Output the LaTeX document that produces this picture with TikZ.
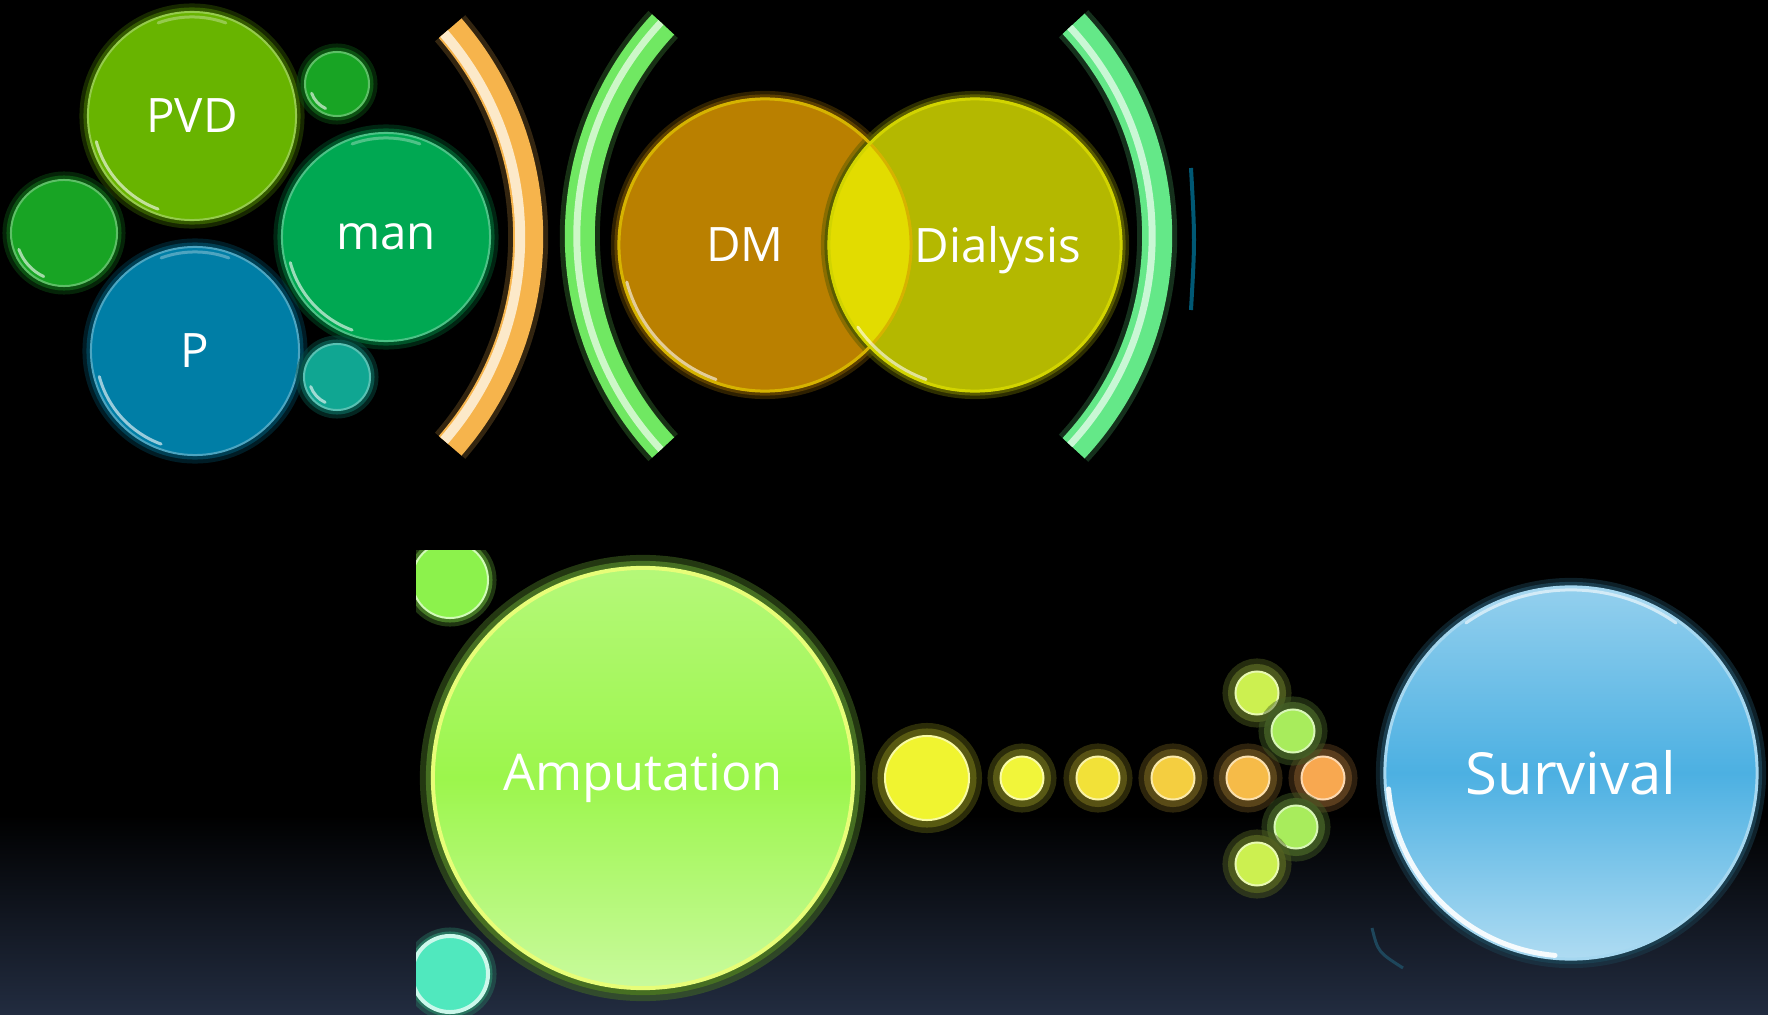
\documentclass[tikz,border=0pt]{standalone}
\usepackage{fontspec}
\setmainfont{Open Sans}
\usetikzlibrary{positioning}

\definecolor{bgnavy}{RGB}{34,44,64}
\definecolor{pvdgreen}{RGB}{104,180,0}
\definecolor{dotgreen}{RGB}{24,164,36}
\definecolor{mangreen}{RGB}{0,168,82}
\definecolor{pblue}{RGB}{0,126,166}
\definecolor{dotteal}{RGB}{16,166,146}
\definecolor{bracketorange}{RGB}{246,180,76}
\definecolor{bracketgreen}{RGB}{112,232,98}
\definecolor{bracketmint}{RGB}{100,232,136}
\definecolor{dmbrown}{RGB}{186,128,0}
\definecolor{dialysisolive}{RGB}{180,184,0}
\definecolor{overlapyellow}{RGB}{226,220,0}
\definecolor{ampgreen}{RGB}{156,246,76}
\definecolor{ampdotgreen}{RGB}{140,242,76}
\definecolor{ampdotteal}{RGB}{80,232,190}
\definecolor{survblue}{RGB}{76,176,226}
\definecolor{beadyellow}{RGB}{240,244,48}
\definecolor{beadorange}{RGB}{248,168,80}
\definecolor{beadlime}{RGB}{204,240,80}
\definecolor{beadgreen}{RGB}{168,236,92}

\tikzset{
  bubble/.style={circle, inner sep=0pt, fill=#1, draw=#1!70!white, line width=0.02cm,
    preaction={draw=#1!50!black, line width=0.17cm, opacity=0.45},
    preaction={draw=#1!50!black, line width=0.09cm}, text=white,
    font=\fontsize{13.5}{16}\selectfont},
  venn/.style={circle, inner sep=0pt, minimum size=2.94cm, fill=#1,
    preaction={draw=#1!50!black, line width=0.14cm, opacity=0.5},
    preaction={draw=#1!50!black, line width=0.07cm}},
  shine/.style={white, opacity=0.6, line width=0.03cm, line cap=round},
  bead/.style={circle, inner sep=0pt, minimum size=0.43cm, fill=#1, draw=#1!45!white,
    line width=0.02cm, preaction={draw=#1!40!black, line width=0.26cm, opacity=0.45},
    preaction={draw=#1!40!black, line width=0.15cm, opacity=0.85}},
  band/.style={draw=#1, line width=0.30cm, preaction={draw=#1!35!black, line width=0.40cm, opacity=0.6}},
  txt/.style={text=white, inner sep=0pt, font=\fontsize{13.5}{16}\selectfont}
}

\begin{document}
\begin{tikzpicture}[x=0.01cm, y=-0.01cm]
	\useasboundingbox (0,0) rectangle (1768,1015);
	\fill[black] (0,0) rectangle (1768,1015);
	\shade[top color=black, bottom color=bgnavy] (0,815) rectangle (1768,1015);

	% bubbles on the left
	\node[bubble=pvdgreen, minimum size=2.08cm] (pvd) at (192,116) {PVD};
	\node[bubble=dotgreen, minimum size=0.64cm] (pvddot) at (337,84) {};
	\node[bubble=dotgreen, minimum size=1.06cm] (leftdot) at (64,233) {};
	\node[bubble=mangreen, minimum size=2.08cm] (man) at (386,237) {man};
	\node[bubble=pblue, minimum size=2.08cm] (p) at (195,351) {P};
	\node[bubble=dotteal, minimum size=0.66cm] (pdot) at (337,377) {};

	\draw[shine] (pvd.center) ++(195:0.99cm) arc[start angle=195, end angle=250, radius=0.99cm];
	\draw[shine] (man.center) ++(195:0.99cm) arc[start angle=195, end angle=250, radius=0.99cm];
	\draw[shine] (p.center) ++(195:0.99cm) arc[start angle=195, end angle=250, radius=0.99cm];
	\draw[shine, opacity=0.3] (pvd.center) ++(70:0.99cm) arc[start angle=70, end angle=110, radius=0.99cm];
	\draw[shine, opacity=0.3] (man.center) ++(70:0.99cm) arc[start angle=70, end angle=110, radius=0.99cm];
	\draw[shine, opacity=0.3] (p.center) ++(70:0.99cm) arc[start angle=70, end angle=110, radius=0.99cm];
	\draw[shine] (pvddot.center) ++(200:0.27cm) arc[start angle=200, end angle=245, radius=0.27cm];
	\draw[shine] (leftdot.center) ++(200:0.48cm) arc[start angle=200, end angle=245, radius=0.48cm];
	\draw[shine] (pdot.center) ++(200:0.28cm) arc[start angle=200, end angle=245, radius=0.28cm];

	% brackets
	\draw[band=bracketorange] (210,237) ++(-41:3.18cm) arc[start angle=-41, end angle=41, radius=3.18cm];
	\draw[bracketorange!30!white, line width=0.10cm] (210,237) ++(-41:3.10cm) arc[start angle=-41, end angle=41, radius=3.10cm];
	\draw[band=bracketgreen] (890,236) ++(137:3.10cm) arc[start angle=137, end angle=223, radius=3.10cm];
	\draw[bracketgreen!35!white, line width=0.07cm] (890,236) ++(137:3.13cm) arc[start angle=137, end angle=223, radius=3.13cm];
	\draw[band=bracketmint] (846,236) ++(-43:3.11cm) arc[start angle=-43, end angle=43, radius=3.11cm];
	\draw[bracketmint!35!white, line width=0.07cm] (846,236) ++(-43:3.06cm) arc[start angle=-43, end angle=43, radius=3.06cm];
	\draw[pblue!70!black, line width=0.04cm] (1191,168) .. controls (1195,240) .. (1191,310);

	% DM and Dialysis
	\node[venn=dmbrown] (dm) at (765,245) {};
	\node[venn=dialysisolive] (dialysis) at (975,245) {};
	\begin{scope}
		\clip (dm.center) circle (1.47cm);
		\fill[overlapyellow] (dialysis.center) circle (1.47cm);
	\end{scope}
	\draw[dmbrown!60!yellow, line width=0.03cm] (dm.center) circle (1.46cm);
	\draw[dialysisolive!60!yellow, line width=0.03cm] (dialysis.center) circle (1.46cm);
	\draw[shine] (dm.center) ++(195:1.43cm) arc[start angle=195, end angle=250, radius=1.43cm];
	\draw[shine] (dialysis.center) ++(215:1.43cm) arc[start angle=215, end angle=250, radius=1.43cm];
	\node[txt] (dmtext) at (745,245) {DM};
	\node[txt] (dialysistext) at (998,250) {Dialysis};

	% bottom row
	\begin{scope}
		\clip (416,550) rectangle (1768,1015);
		\node[bubble=ampdotgreen, draw=ampdotgreen!40!white, minimum size=0.76cm] (ampdot) at (450,580) {};
		\node[bubble=ampdotteal, draw=ampdotteal!30!white, line width=0.04cm, minimum size=0.76cm] (tealdot) at (450,974) {};
	\end{scope}

	\node[circle, inner sep=0pt, minimum size=4.20cm, top color=ampgreen!75!white, bottom color=ampgreen!55!white,
		middle color=ampgreen, draw=ampgreen!40!yellow!60!white, line width=0.04cm,
		preaction={draw=ampgreen!45!black, line width=0.26cm, opacity=0.5},
		preaction={draw=ampgreen!45!black, line width=0.14cm}, text=white,
		font=\fontsize{14.4}{17}\selectfont] (amp) at (643,778) {Amputation};

	\node[bead=beadyellow, minimum size=0.84cm] (bigbead) at (927,778) {};
	\node[bead=beadyellow!95!white] (bead1) at (1022,778) {};
	\node[bead=beadyellow!75!beadorange] (bead2) at (1098,778) {};
	\node[bead=beadyellow!50!beadorange] (bead3) at (1173,778) {};
	\node[bead=beadyellow!25!beadorange] (bead4) at (1248,778) {};
	\node[bead=beadorange] (bead5) at (1323,778) {};
	\node[bead=beadlime] (uppertip) at (1257,693) {};
	\node[bead=beadgreen] (upperbead) at (1293,731) {};
	\node[bead=beadgreen] (lowerbead) at (1296,827) {};
	\node[bead=beadlime] (lowertip) at (1257,864) {};

	\node[circle, inner sep=0pt, minimum size=3.72cm, top color=survblue!60!white, bottom color=survblue!45!white,
		middle color=survblue, draw=survblue!50!white, line width=0.03cm,
		preaction={draw=survblue!35!black, line width=0.18cm, opacity=0.5},
		preaction={draw=survblue!35!black, line width=0.10cm}, text=white,
		font=\fontsize{16.5}{20}\selectfont] (surv) at (1571,773) {Survival};
	\draw[shine, opacity=0.9, line width=0.05cm] (surv.center) ++(185:1.83cm) arc[start angle=185, end angle=265, radius=1.83cm];
	\draw[shine, opacity=0.6] (surv.center) ++(55:1.83cm) arc[start angle=55, end angle=125, radius=1.83cm];
	\draw[survblue!40!black, line width=0.03cm] (1372,928) .. controls (1378,952) .. (1403,968);
\end{tikzpicture}
\end{document}
